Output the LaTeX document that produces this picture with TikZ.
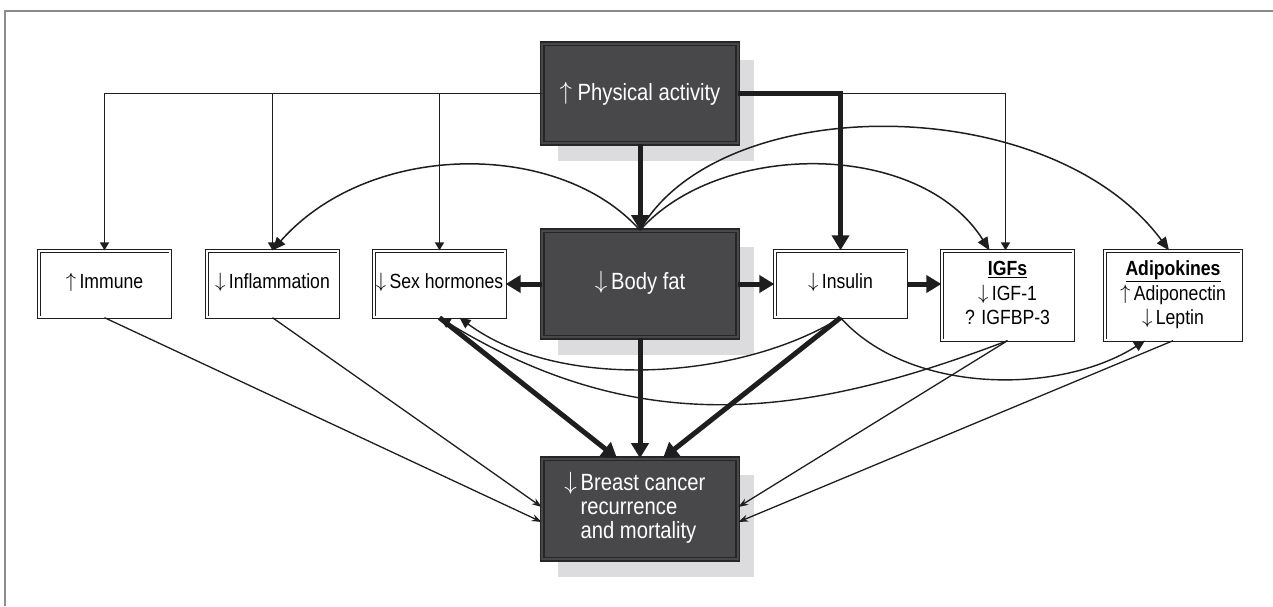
\documentclass[tikz,border=0pt]{standalone}
\usepackage{fontspec}
\setmainfont{Liberation Sans}[FakeStretch=0.86]
\usetikzlibrary{arrows.meta,calc,backgrounds}
\definecolor{darkbox}{HTML}{48484B}
\definecolor{darkline}{HTML}{262626}
\definecolor{shadowc}{HTML}{DCDCDE}
\definecolor{framec}{HTML}{8C8C8C}
\definecolor{inkc}{HTML}{1E1E1E}
\newcommand{\upa}{\raisebox{1pt}{$\uparrow$}}
\newcommand{\dna}{\raisebox{1pt}{$\downarrow$}}
\tikzset{
  dbox/.style={draw=darkline, fill=darkbox, double=darkbox, line width=1.1pt,
    double distance=2.4pt, minimum width=195.5pt, inner sep=0pt, text=white,
    font=\fontsize{23.5}{24}\selectfont},
  wbox/.style={draw=inkc, fill=white, double=white, line width=0.85pt,
    double distance=1.8pt, minimum width=131.5pt, minimum height=66.5pt,
    inner sep=0pt, font=\fontsize{20.5}{22}\selectfont},
  thinarr/.style={draw=inkc, line width=1.5pt, -{Triangle[length=8pt,width=9pt]}},
  thickarr/.style={draw=inkc, line width=5pt, line join=miter, -{Triangle[length=15pt,width=17pt]}},
  curvarr/.style={draw=inkc, line width=1.5pt, -{Triangle[length=13pt,width=11pt]}},
  curvarrb/.style={draw=inkc, line width=1.4pt, -{Triangle[length=11pt,width=10pt]}},
  botarr/.style={draw=inkc, line width=1.3pt, -{Stealth[length=10pt,width=7pt]}},
}
\begin{document}
\begin{tikzpicture}[x=1pt,y=-1pt]
\useasboundingbox (0,0) rectangle (1273,606);
\draw[framec, line width=2pt] (5,606) -- (5,11) -- (1273,11);

% dark boxes
\node[dbox, minimum height=99.5pt] (pa) at (640,93.5) {\raisebox{5pt}{\upa\ Physical activity}};
\node[dbox, minimum height=106.5pt] (bf) at (640,284) {\raisebox{7pt}{\dna\,Body fat}};
\node[dbox, minimum height=100.5pt] (bc) at (640,509) {\hspace*{6pt}\raisebox{5pt}{\begin{tabular}{@{}l@{}}\llap{\dna\,}Breast cancer\\recurrence\\and mortality\end{tabular}}};

% white boxes
\node[wbox] (imm) at (104.5,284) {\raisebox{7pt}{\upa\,Immune}};
\node[wbox] (inf) at (272.5,284) {\raisebox{7pt}{\dna\,Inflammation}};
\node[wbox] (sh) at (439.5,284) {\raisebox{7pt}{\dna\,Sex hormones}};
\node[wbox] (ins) at (840.5,284) {\raisebox{7pt}{\dna\,Insulin}};
\node[wbox, minimum height=89.5pt] (igf) at (1007.5,295.5) {\raisebox{8pt}{\begin{tabular}{@{}c@{}}\underline{\textbf{IGFs}}\\[3pt]\dna\,IGF-1\\[1.5pt]? IGFBP-3\end{tabular}}};
\node[wbox, minimum width=136.5pt, minimum height=89.5pt] (adi) at (1173,295.5) {\raisebox{8pt}{\begin{tabular}{@{}c@{}}\underline{\textbf{Adipokines}}\\[3pt]\upa\,Adiponectin\\[1.5pt]\dna\,Leptin\end{tabular}}};

% shadows
\begin{scope}[on background layer]
  \foreach \b in {pa,bf,bc}{
    \fill[shadowc] ([xshift=16pt,yshift=-17pt]\b.south west) rectangle ([xshift=16pt,yshift=-17pt]\b.north east);
  }
\end{scope}

% from physical activity
\draw[thinarr] (pa.west) -| (imm.north);
\draw[thinarr] (pa.west -| inf.north) -- (inf.north);
\draw[thinarr] (pa.west -| sh.north) -- (sh.north);
\draw[thinarr] (pa.east -| ins.north) -| ([xshift=-2pt]igf.north);
\draw[thickarr] (pa.east) -| (ins.north);
\draw[thickarr] (pa.south) -- (bf.north);

% from body fat
\draw[thickarr] (bf.west) -- (sh.east);
\draw[thickarr] (bf.east) -- (ins.west);
\draw[thickarr] (ins.east) -- (ins.east -| igf.west);
\draw[curvarr] (bf.north) .. controls (560,140) and (370,140) .. (inf.north);
\draw[curvarr] (bf.north) .. controls (720,140) and (920,140) .. ([xshift=-18pt]igf.north);
\draw[curvarr] (bf.north) .. controls (720,90) and (1050,90) .. ([xshift=-4pt]adi.north);

% lower connections
\draw[curvarrb] (ins.south) .. controls (740,380) and (560,392) .. ([xshift=20pt]sh.south);
\draw[curvarrb] (igf.south) .. controls (805,418) and (640,440) .. (sh.south);
\draw[curvarrb] (ins.south) .. controls (910,395) and (1060,395) .. ([xshift=-28pt]adi.south);

\draw[botarr] (imm.south) -- ([yshift=-13pt]bc.west);
\draw[botarr] (inf.south) -- ([yshift=2pt]bc.west);
\draw[botarr] (igf.south) -- ([yshift=2pt]bc.east);
\draw[botarr] (adi.south) -- ([yshift=-13pt]bc.east);
\draw[thickarr] (sh.south) -- ([xshift=-23pt]bc.north);
\draw[thickarr] (bf.south) -- (bc.north);
\draw[thickarr] (ins.south) -- ([xshift=23pt]bc.north);
\end{tikzpicture}
\end{document}
